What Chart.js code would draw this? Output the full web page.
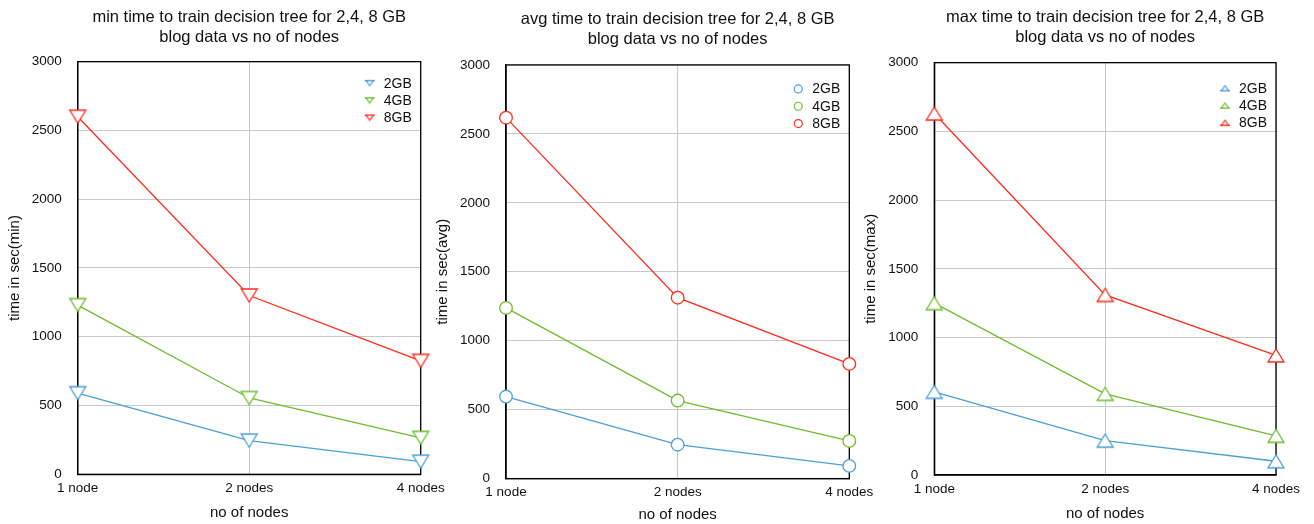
<!DOCTYPE html>
<html>
<head>
<meta charset="utf-8">
<script src="https://cdn.jsdelivr.net/npm/chart.js@4.4.0/dist/chart.umd.min.js"></script>
<style>
  html, body { margin: 0; padding: 0; background: #fff; }
  #wrap { position: relative; width: 1314px; height: 524px; }
  #wrap canvas { position: absolute; left: 0; top: 0; }
</style>
</head>
<body>
<div id="wrap">
  <canvas id="minChart" width="1314" height="524"></canvas>
  <canvas id="avgChart" width="1314" height="524"></canvas>
  <canvas id="maxChart" width="1314" height="524"></canvas>
</div>
<script>
const nodeLabels = ['1 node', '2 nodes', '4 nodes'];
const sizeLabels = ['2GB', '4GB', '8GB'];

// training time in seconds, per data size, for 1 / 2 / 4 nodes
const minTime2GB = [590, 245, 92];
const minTime4GB = [1230, 555, 265];
const minTime8GB = [2600, 1300, 825];

const avgTime2GB = [595, 246, 92];
const avgTime4GB = [1238, 566, 273];
const avgTime8GB = [2618, 1312, 832];

const maxTime2GB = [605, 250, 100];
const maxTime4GB = [1250, 590, 285];
const maxTime8GB = [2630, 1310, 870];

const yMax = 3000;
const yStep = 500;

const seriesColors = ['#4a9fd6', '#6cbd2e', '#ff2b1c'];
const FONT = '"Liberation Sans", Arial, Helvetica, sans-serif';
const TEXT = '#111';

Chart.defaults.font.family = FONT;
Chart.defaults.color = TEXT;

// hollow triangle, centred on its bounding box
function triangleMark(color, w, h, down, lw) {
  const c = document.createElement('canvas');
  c.width = Math.ceil(w + 4);
  c.height = Math.ceil(h + 4);
  const g = c.getContext('2d');
  const cx = c.width / 2, cy = c.height / 2;
  g.beginPath();
  if (down) {
    g.moveTo(cx - w / 2, cy - h / 2);
    g.lineTo(cx + w / 2, cy - h / 2);
    g.lineTo(cx, cy + h / 2);
  } else {
    g.moveTo(cx - w / 2, cy + h / 2);
    g.lineTo(cx + w / 2, cy + h / 2);
    g.lineTo(cx, cy - h / 2);
  }
  g.closePath();
  g.fillStyle = '#fff';
  g.fill();
  g.strokeStyle = color;
  g.lineWidth = lw;
  g.stroke();
  return c;
}

// black box around the plot area
const framePlugin = {
  id: 'frame',
  beforeDatasetsDraw(chart) {
    const {ctx, chartArea: a} = chart;
    ctx.save();
    ctx.strokeStyle = '#000';
    ctx.lineWidth = 1.3;
    ctx.strokeRect(a.left, a.top, a.right - a.left, a.bottom - a.top);
    ctx.restore();
  }
};

// small key in the top right corner of the plot
const keyPlugin = {
  id: 'key',
  afterDraw(chart, args, opts) {
    const {ctx, chartArea: a} = chart;
    ctx.save();
    ctx.font = '14px ' + FONT;
    ctx.textBaseline = 'middle';
    chart.data.datasets.forEach((ds, i) => {
      const y = a.top + opts.top + i * 17.3;
      const x = a.right - 51;
      const color = seriesColors[i];
      ctx.strokeStyle = color;
      ctx.lineWidth = 1.2;
      if (opts.shape === 'circle') {
        ctx.beginPath();
        ctx.arc(x, y, 4, 0, Math.PI * 2);
        ctx.fillStyle = '#fff';
        ctx.fill();
        ctx.stroke();
      } else {
        const down = opts.shape === 'down';
        const baseY = down ? y - 2.5 : y + 2.5;
        ctx.beginPath();
        ctx.moveTo(x - 5, baseY);
        ctx.lineTo(x + 5, baseY);
        ctx.stroke();
        ctx.drawImage(triangleMark(color, 7, 5, down, 1.2), x - 5.5, y - 4.5);
      }
      ctx.fillStyle = TEXT;
      ctx.fillText(ds.label, a.right - 37, y + 0.5);
    });
    ctx.restore();
  }
};

function buildChart(id, cfg) {
  const datasets = cfg.series.map((vals, i) => ({
    label: sizeLabels[i],
    data: vals,
    borderColor: seriesColors[i],
    borderWidth: 1.3,
    pointStyle: cfg.shape === 'circle' ? 'circle' : triangleMark(seriesColors[i], 16, 13, cfg.shape === 'down', 1.3),
    pointRadius: 6.3,
    pointBorderWidth: 1.3,
    pointBorderColor: seriesColors[i],
    pointBackgroundColor: '#fff',
    tension: 0,
    clip: false
  }));

  return new Chart(document.getElementById(id), {
    type: 'line',
    data: { labels: nodeLabels, datasets },
    plugins: [framePlugin, keyPlugin],
    options: {
      responsive: false,
      animation: false,
      events: [],
      layout: { padding: cfg.pad },
      plugins: {
        legend: { display: false },
        tooltip: { enabled: false },
        title: {
          display: true,
          text: cfg.title,
          fullSize: false,
          color: TEXT,
          font: { size: 16.5, weight: 'normal', lineHeight: 1.22 },
          padding: { top: 0, bottom: cfg.titleGap }
        },
        key: { top: cfg.keyTop, shape: cfg.shape }
      },
      scales: {
        x: {
          grid: { color: '#c8c8c8', lineWidth: 1, drawTicks: false },
          border: { color: '#000', width: 1.3 },
          ticks: { font: { size: 13.5 }, color: TEXT, padding: 6, maxRotation: 0, autoSkip: false },
          title: {
            display: true,
            text: 'no of nodes',
            color: TEXT,
            font: { size: 15 },
            padding: { top: 0, bottom: cfg.xTitleGap }
          },
          afterFit(s) {
            s.paddingLeft = 0;
            s.paddingRight = 0;
            s.height = cfg.xAxisH;
          }
        },
        y: {
          min: 0,
          max: yMax,
          grid: { color: '#c8c8c8', lineWidth: 1, drawTicks: false },
          border: { color: '#000', width: 1.3 },
          ticks: {
            stepSize: yStep,
            font: { size: 13.5 },
            color: TEXT,
            padding: 16,
            callback: v => String(v)
          },
          title: {
            display: true,
            text: cfg.yTitle,
            color: TEXT,
            font: { size: 15 },
            padding: 0
          },
          afterFit(s) {
            s.width = 72;
          }
        }
      }
    }
  });
}

buildChart('minChart', {
  title: ['min time to train decision tree for 2,4, 8 GB', 'blog data vs no of nodes'],
  yTitle: 'time in sec(min)',
  series: [minTime2GB, minTime4GB, minTime8GB],
  shape: 'down',
  pad: { left: 5.7, right: 893.3, top: 7, bottom: 0 },
  titleGap: 14.4,
  xAxisH: 49.7,
  xTitleGap: 2,
  keyTop: 21.5
});

buildChart('avgChart', {
  title: ['avg time to train decision tree for 2,4, 8 GB', 'blog data vs no of nodes'],
  yTitle: 'time in sec(avg)',
  series: [avgTime2GB, avgTime4GB, avgTime8GB],
  shape: 'circle',
  pad: { left: 434, right: 464.7, top: 9, bottom: 0 },
  titleGap: 15.7,
  xAxisH: 45.4,
  xTitleGap: 0,
  keyTop: 24
});

buildChart('maxChart', {
  title: ['max time to train decision tree for 2,4, 8 GB', 'blog data vs no of nodes'],
  yTitle: 'time in sec(max)',
  series: [maxTime2GB, maxTime4GB, maxTime8GB],
  shape: 'up',
  pad: { left: 862.3, right: 38, top: 7, bottom: 0 },
  titleGap: 15.4,
  xAxisH: 49,
  xTitleGap: 1,
  keyTop: 25.5
});
</script>
</body>
</html>
